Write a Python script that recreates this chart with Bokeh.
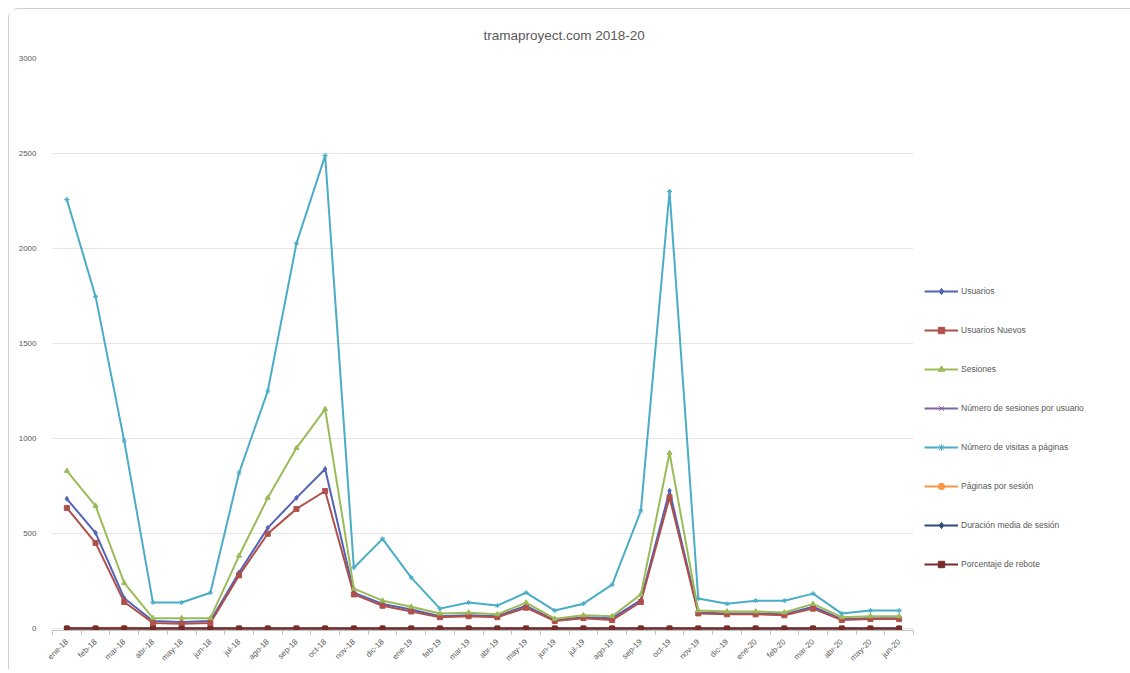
import math
from bokeh.plotting import figure
from bokeh.models import FixedTicker, Legend, LegendItem, Range1d
from bokeh.embed import file_html
from bokeh.resources import INLINE

months = ["ene-18", "feb-18", "mar-18", "abr-18", "may-18", "jun-18", "jul-18", "ago-18",
          "sep-18", "oct-18", "nov-18", "dic-18", "ene-19", "feb-19", "mar-19", "abr-19",
          "may-19", "jun-19", "jul-19", "ago-19", "sep-19", "oct-19", "nov-19", "dic-19",
          "ene-20", "feb-20", "mar-20", "abr-20", "may-20", "jun-20"]

usuarios = [683, 504, 160, 40, 35, 40, 295, 530, 688, 840, 189, 130, 100, 65, 70, 65,
            120, 45, 60, 55, 150, 725, 85, 80, 80, 75, 115, 50, 55, 55]
usuarios_nuevos = [635, 451, 140, 30, 25, 30, 280, 499, 630, 724, 180, 120, 90, 60, 65, 60,
                   110, 40, 55, 45, 140, 690, 80, 75, 75, 70, 105, 45, 50, 50]
sesiones = [830, 646, 240, 55, 55, 55, 383, 688, 950, 1155, 210, 147, 115, 79, 84, 75,
            137, 52, 70, 65, 180, 924, 95, 90, 90, 85, 130, 60, 65, 65]
sesiones_por_usuario = [1.22, 1.28, 1.5, 1.38, 1.57, 1.38, 1.3, 1.3, 1.38, 1.37, 1.11, 1.13,
                        1.15, 1.22, 1.2, 1.15, 1.14, 1.16, 1.17, 1.18, 1.2, 1.27, 1.12, 1.13,
                        1.13, 1.13, 1.13, 1.2, 1.18, 1.18]
visitas = [2258, 1748, 987, 137, 137, 189, 819, 1250, 2027, 2489, 320, 472, 268, 105, 137, 121,
           189, 95, 131, 231, 620, 2300, 158, 131, 147, 147, 184, 79, 95, 95]
paginas_por_sesion = [2.72, 2.71, 4.11, 2.49, 2.49, 3.44, 2.14, 1.82, 2.13, 2.15, 1.52, 3.21,
                      2.33, 1.33, 1.63, 1.61, 1.38, 1.83, 1.87, 3.55, 3.44, 2.49, 1.66, 1.46,
                      1.63, 1.73, 1.42, 1.32, 1.46, 1.46]
duracion_media = [0.0012, 0.0011, 0.0018, 0.0009, 0.0010, 0.0015, 0.0008, 0.0007, 0.0009,
                  0.0009, 0.0004, 0.0012, 0.0008, 0.0005, 0.0006, 0.0006, 0.0005, 0.0007,
                  0.0007, 0.0014, 0.0013, 0.0010, 0.0006, 0.0005, 0.0006, 0.0006, 0.0005,
                  0.0004, 0.0005, 0.0005]
porcentaje_rebote = [0.62, 0.64, 0.55, 0.71, 0.69, 0.60, 0.70, 0.72, 0.69, 0.68, 0.80, 0.62,
                     0.68, 0.78, 0.75, 0.76, 0.79, 0.74, 0.73, 0.58, 0.60, 0.66, 0.77, 0.80,
                     0.78, 0.77, 0.80, 0.82, 0.80, 0.80]

series = [
    ("Usuarios", usuarios, "#5363b6", "diamond"),
    ("Usuarios Nuevos", usuarios_nuevos, "#b0504c", "square"),
    ("Sesiones", sesiones, "#9bbb59", "triangle"),
    ("Número de sesiones por usuario", sesiones_por_usuario, "#8064a2", "x"),
    ("Número de visitas a páginas", visitas, "#4bacc6", "asterisk"),
    ("Páginas por sesión", paginas_por_sesion, "#f79646", "circle"),
    ("Duración media de sesión", duracion_media, "#2c4d75", "diamond"),
    ("Porcentaje de rebote", porcentaje_rebote, "#772c2a", "square"),
]

x = list(range(len(months)))

p = figure(width=1112, height=660, output_backend="svg", toolbar_location=None,
           x_range=Range1d(-0.5, len(months) - 0.5), y_range=Range1d(-10, 3000),
           min_border_left=43, min_border_right=208, min_border_top=49, min_border_bottom=39)
p.frame_width = 861
p.frame_height = 572

p.title.text = "tramaproyect.com 2018-20"
p.title.align = "left"
p.title.text_font = "Liberation Sans"
p.title.text_font_size = "13.5px"
p.title.text_font_style = "normal"
p.title.text_color = "#595959"
p.title.offset = 431
p.title.standoff = 32

p.outline_line_color = None
p.background_fill_color = "white"
p.border_fill_color = "white"
p.styles = {"margin-left": "8px", "margin-top": "8px",
            "border-left": "1px solid #d0d0d0", "border-top": "1px solid #d0d0d0",
            "border-right": "1px solid #d0d0d0", "border-top-left-radius": "10px",
            "border-top-right-radius": "10px"}

p.xgrid.grid_line_color = None
p.ygrid.grid_line_color = "#e4e4e4"
p.ygrid.ticker = FixedTicker(ticks=[0, 500, 1000, 1500, 2000, 2500, 3000])

p.yaxis.ticker = FixedTicker(ticks=[0, 500, 1000, 1500, 2000, 2500, 3000])
p.yaxis.axis_line_color = None
p.yaxis.major_tick_line_color = None
p.yaxis.minor_tick_line_color = None
p.yaxis.major_label_text_font_size = "8px"
p.yaxis.major_label_text_color = "#595959"
p.yaxis.major_label_text_font = "Liberation Sans"
p.yaxis.major_label_standoff = 10

p.xaxis.ticker = FixedTicker(ticks=x, minor_ticks=[i - 0.5 for i in range(len(months) + 1)])
p.xaxis.major_label_overrides = {i: m for i, m in enumerate(months)}
p.xaxis.major_label_orientation = math.pi / 4
p.xaxis.major_label_text_font_size = "8px"
p.xaxis.major_label_text_color = "#595959"
p.xaxis.major_label_text_font = "Liberation Sans"
p.xaxis.axis_line_color = "#bfbfbf"
p.xaxis.major_tick_line_color = None
p.xaxis.minor_tick_line_color = "#bfbfbf"
p.xaxis.minor_tick_in = 0
p.xaxis.minor_tick_out = 4
p.xaxis.major_label_standoff = 4

items = []
for name, vals, color, marker in series:
    r1 = p.line(x, vals, line_color=color, line_width=2)
    r2 = p.scatter(x, vals, marker=marker, size=5, line_color=color, fill_color=color)
    items.append(LegendItem(label=name, renderers=[r1, r2]))

legend = Legend(items=items, location=(11, 58), orientation="vertical")
legend.label_text_font_size = "8.5px"
legend.label_text_color = "#595959"
legend.label_text_font = "Liberation Sans"
legend.glyph_width = 34
legend.glyph_height = 16
legend.label_height = 16
legend.spacing = 23
legend.padding = 0
legend.margin = 0
legend.label_standoff = 3
legend.border_line_color = None
legend.background_fill_alpha = 0
p.add_layout(legend, "right")

open("out.html", "w").write(file_html(p, INLINE))
